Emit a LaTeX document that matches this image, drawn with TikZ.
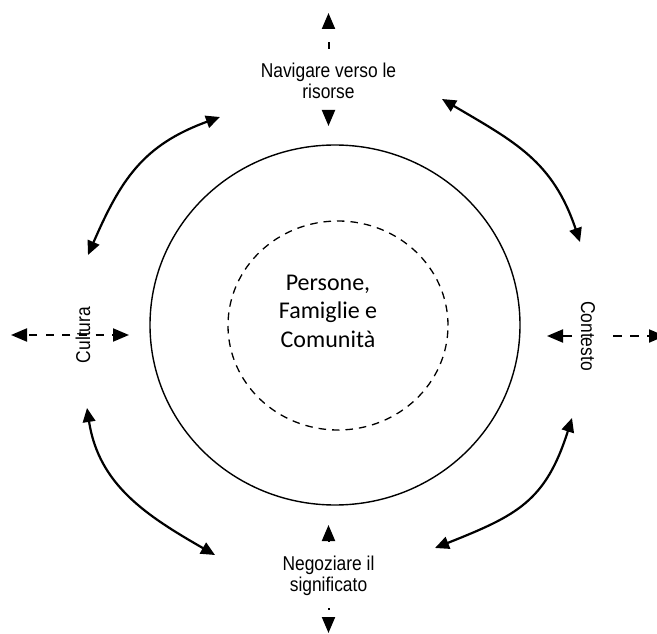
\documentclass[tikz,border=0pt]{standalone}
\usepackage{fontspec}
\setmainfont{Liberation Sans}
\newfontfamily\labfont[FakeStretch=0.87]{Liberation Sans}
\newfontfamily\corefont{Carlito}
\usetikzlibrary{arrows.meta,shapes.geometric}

\tikzset{
  lab/.style={font=\labfont\fontsize{20}{20.5}\selectfont, align=center, inner sep=0pt},
  coretext/.style={font=\corefont\fontsize{24}{28.5}\selectfont, align=center, inner sep=0pt},
  ring/.style={draw, ellipse, line width=1.4pt, inner sep=0pt},
  corering/.style={draw, ellipse, line width=1.3pt, dash pattern=on 7.5pt off 6pt, inner sep=0pt},
  tipd/.tip={Triangle[length=16pt, width=13pt]},
  tipc/.tip={Triangle[length=14pt, width=12.5pt]},
  dasharrow/.style={line width=2pt, -tipd},
  curvearrow/.style={line width=2.2pt, tipc-tipc},
}

\begin{document}
\begin{tikzpicture}[x=1pt, y=-1pt]
\useasboundingbox (0,0) rectangle (657,634);

% rings
\node[ring, minimum width=370pt, minimum height=360pt] (outer) at (335,325) {};
\node[corering, minimum width=220pt, minimum height=209pt] (core) at (338,325.5) {};
\node[coretext] (people) at (328,311) {Persone,\\Famiglie e\\Comunità};

% labels around the ring
\node[lab] (nav) at (328.5,81) {Navigare verso le\\risorse};
\node[lab] (neg) at (328.5,575.7) {Negoziare il\\significato};
\node[lab, rotate=90] (cul) at (83,335) {Cultura};
\node[lab, rotate=-90] (ctx) at (588,336) {Contesto};

% arrow end points
\coordinate (navUp) at (328.5,13);
\coordinate (navDown) at (328.5,126);
\coordinate (negUp) at (328.5,525);
\coordinate (negDown) at (328.5,633);
\coordinate (culL) at (11,335);
\coordinate (culR) at (129,335);
\coordinate (ctxL) at (547,336);
\coordinate (ctxR) at (665,336);

% dashed arrows
\draw[dasharrow, dash pattern=on 7pt off 14.4pt, dash phase=7pt] (nav.north) -- (navUp);
\draw[dasharrow, dash pattern=on 7pt off 14.4pt, dash phase=7pt] (nav.south) -- (navDown);
\draw[dasharrow, dash pattern=on 7pt off 14.4pt, dash phase=7pt] (neg.north) -- (negUp);
\draw[dasharrow, dash pattern=on 2pt off 13pt, dash phase=2pt] (neg.south) -- (negDown);
\draw[dasharrow, dash pattern=on 8pt off 8.6pt, dash phase=4pt] (cul.center) -- (culL);
\draw[dasharrow, dash pattern=on 8pt off 8.6pt, dash phase=4pt] (cul.center) -- (culR);
\draw[dasharrow, dash pattern=on 9pt off 8pt] ([xshift=-16pt]ctx.center) -- (ctxL);
\draw[dasharrow, dash pattern=on 9pt off 8pt] ([xshift=25pt]ctx.center) -- (ctxR);

% curved two-way arrows
\coordinate (tlA) at (220,117);
\coordinate (tlB) at (88,255);
\coordinate (trA) at (442,99);
\coordinate (trB) at (580,242);
\coordinate (blA) at (87,408);
\coordinate (blB) at (215,555);
\coordinate (brA) at (572,418);
\coordinate (brB) at (435,548);

\draw[curvearrow] (tlA) .. controls (143,145) and (120.8,179.6) .. (tlB);
\draw[curvearrow] (trA) .. controls (515,142) and (552.8,161) .. (trB);
\draw[curvearrow] (blA) .. controls (98.7,485) and (147,516) .. (blB);
\draw[curvearrow] (brA) .. controls (545.6,501.6) and (516.8,515.4) .. (brB);
\end{tikzpicture}
\end{document}
